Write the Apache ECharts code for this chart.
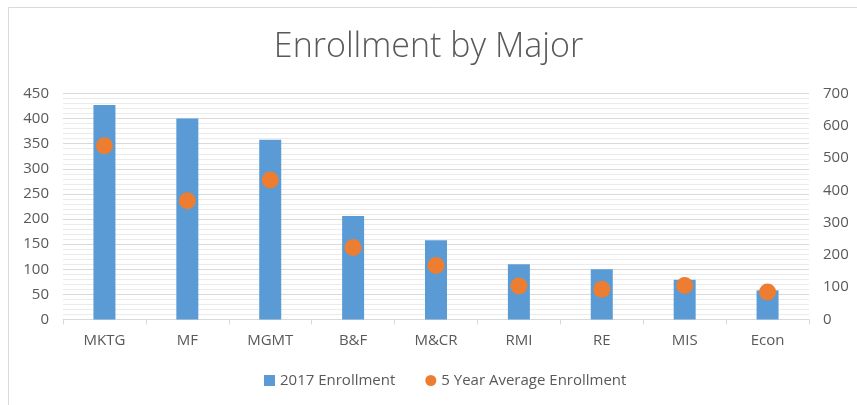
<!DOCTYPE html>
<html>
<head>
<meta charset="utf-8">
<script src="https://cdn.jsdelivr.net/npm/echarts@6/dist/echarts.min.js"></script>
<style>
  html, body { margin: 0; padding: 0; background: #fff; }
  #chart { width: 857px; height: 405px; }
</style>
</head>
<body>
<div id="chart"></div>
<script>
// Majors along the x axis
const majors = ['MKTG', 'MF', 'MGMT', 'B&F', 'M&CR', 'RMI', 'RE', 'MIS', 'Econ'];
// 2017 enrollment per major (left axis)
const enrollment2017 = [427, 400, 358, 206, 158, 110, 100, 79, 58];
// Five-year average enrollment per major (right axis)
const fiveYearAverage = [538, 368, 432, 223, 167, 104, 94, 105, 85];
// Axis ranges
const leftMax = 450, leftStep = 50;
const rightMax = 700, rightStep = 100;

const textColor = '#595959';
const gridColor = '#d9d9d9';
const font = '"Open Sans", "Noto Sans", sans-serif';

const chart = echarts.init(document.getElementById('chart'), null, { renderer: 'canvas' });
chart.setOption({
  backgroundColor: '#ffffff',
  animation: false,
  title: {
    text: 'Enrollment by Major',
    left: 'center',
    top: 25,
    textStyle: { fontFamily: font, fontWeight: 300, fontSize: 34, color: textColor }
  },
  graphic: [{
    type: 'rect',
    shape: { x: 8.5, y: 7.5, width: 880, height: 420 },
    style: { fill: 'none', stroke: gridColor, lineWidth: 1 },
    silent: true
  }],
  grid: { left: 63, right: 48, top: 93.5, bottom: 85.5 },
  legend: {
    bottom: 12,
    left: 259,
    itemGap: 30,
    itemWidth: 11,
    itemHeight: 11,
    textStyle: { fontFamily: font, fontSize: 15, color: textColor },
    data: [
      { name: '2017 Enrollment', icon: 'rect' },
      { name: '5 Year Average Enrollment', icon: 'circle' }
    ]
  },
  xAxis: {
    type: 'category',
    data: majors,
    boundaryGap: true,
    axisLine: { lineStyle: { color: gridColor, width: 1 } },
    axisTick: { show: true, length: 5, lineStyle: { color: gridColor } },
    axisLabel: { fontFamily: font, fontSize: 15, color: textColor, margin: 14 }
  },
  yAxis: [{
    type: 'value',
    min: 0, max: leftMax, interval: leftStep,
    axisLine: { show: false },
    axisTick: { show: false },
    axisLabel: { fontFamily: font, fontSize: 15, color: textColor, margin: 14 },
    splitLine: { lineStyle: { color: gridColor, width: 1 } },
    minorTick: { show: false, splitNumber: 5 },
    minorSplitLine: { show: true, lineStyle: { color: '#ebebeb', width: 1 } }
  }, {
    type: 'value',
    min: 0, max: rightMax, interval: rightStep,
    axisLine: { show: false },
    axisTick: { show: false },
    axisLabel: { fontFamily: font, fontSize: 15, color: textColor, margin: 14 },
    splitLine: { show: false }
  }],
  series: [{
    name: '2017 Enrollment',
    type: 'bar',
    yAxisIndex: 0,
    data: enrollment2017,
    barWidth: 22,
    itemStyle: { color: '#5b9bd5' }
  }, {
    name: '5 Year Average Enrollment',
    type: 'scatter',
    yAxisIndex: 1,
    data: fiveYearAverage,
    symbol: 'circle',
    symbolSize: 17,
    itemStyle: { color: '#ed7d31', opacity: 1 },
    z: 3
  }]
});
</script>
</body>
</html>
